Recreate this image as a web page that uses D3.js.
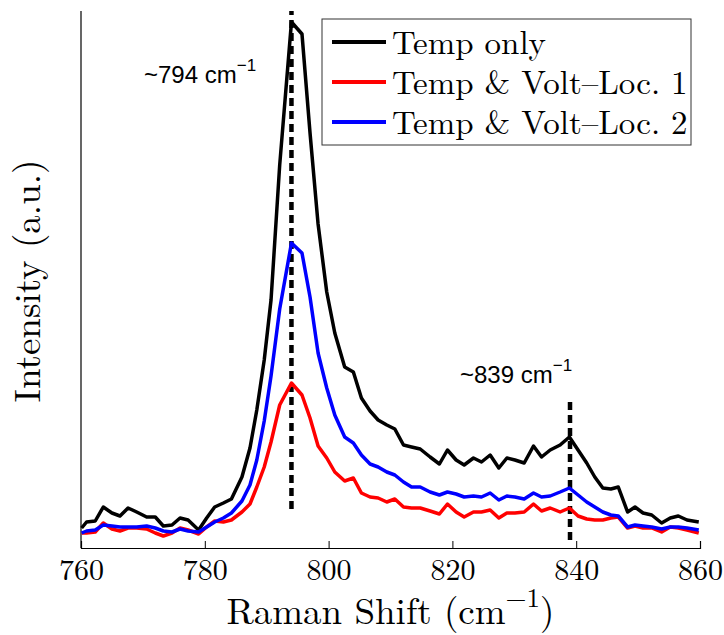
<!DOCTYPE html>
<html lang="en">
<head>
	<meta charset="utf-8">
	<script src="https://d3js.org/d3.v7.min.js"></script>
	<style type="text/css">
		body {
			margin: 0;
			background: #fff;
		}
	</style>
</head>
<body>
	<script type="text/javascript">

	// Raman shift (cm^-1) sample positions
	var shift = [760.1, 760.9, 762.3, 763.6, 765.0, 766.3, 767.6, 769.0, 770.6, 772.0,
		773.3, 774.7, 776.0, 777.3, 779.0, 780.3, 781.6, 783.0, 784.3, 786.0,
		787.3, 788.4, 789.6, 790.7, 792.1, 794.0, 795.7, 797.0, 798.3, 799.7,
		801.0, 802.6, 804.0, 805.3, 806.7, 808.0, 809.4, 810.7, 812.1, 813.4,
		814.8, 816.4, 817.9, 819.2, 820.6, 821.9, 823.4, 824.7, 826.1, 827.5,
		828.8, 830.1, 831.6, 833.1, 834.4, 835.8, 837.4, 838.9, 840.3, 841.7,
		843.0, 844.3, 845.6, 846.8, 848.3, 849.5, 850.8, 852.2, 853.8, 855.2,
		856.5, 857.9, 859.8];

	// intensities (a.u.)
	var tempOnly = [20, 26, 27, 41, 35, 32, 40, 36, 31, 31,
		22, 23, 30, 28, 18, 30, 41, 45, 49, 71,
		100, 138, 188, 248, 383, 526, 514, 415, 324, 256,
		215, 181, 176, 150, 137, 128, 123, 119, 103, 101,
		99, 91, 84, 98, 88, 83, 90, 86, 93, 80,
		90, 88, 85, 102, 91, 98, 103, 111, 98, 85,
		71, 60, 59, 61, 36, 41, 35, 33, 25, 30,
		32, 28, 26];

	var loc1 = [15, 15, 16, 25, 19, 17, 20, 20, 19, 15,
		12, 15, 20, 18, 14, 21, 27, 26, 28, 36,
		44, 61, 81, 106, 143, 165, 153, 130, 102, 90,
		76, 67, 70, 55, 51, 50, 46, 49, 41, 40,
		40, 37, 34, 44, 36, 31, 36, 36, 38, 30,
		35, 35, 36, 44, 37, 40, 36, 40, 32, 29,
		28, 28, 30, 31, 20, 22, 20, 20, 16, 21,
		20, 18, 15];

	var loc2 = [15, 17, 18, 23, 22, 21, 21, 21, 22, 20,
		17, 16, 19, 17, 16, 21, 26, 30, 35, 47,
		63, 88, 127, 172, 239, 305, 295, 251, 195, 160,
		133, 111, 105, 93, 84, 81, 76, 73, 66, 61,
		61, 56, 53, 56, 54, 51, 52, 51, 55, 48,
		52, 51, 49, 55, 51, 52, 56, 60, 53, 46,
		41, 36, 33, 32, 21, 23, 22, 21, 19, 21,
		21, 20, 18];

	var seriesNames = ["Temp only", "Temp & Volt\u2013Loc. 1", "Temp & Volt\u2013Loc. 2"];
	var seriesColors = ["#000000", "#ff0000", "#0000ff"];
	var xTicks = [760, 780, 800, 820, 840, 860];

	// marked peaks: position, label, dashed line from / to (a.u.)
	var peaks = [794, 839];
	var peakLabels = ["~794", "~839"];
	var peakLineFrom = [39, 8];
	var peakLineTo = [537, 150];

	var serif = "'Latin Modern Roman'";
	var sans = "'Liberation Sans'";

	var width = 724;
	var height = 635;
	var margin = {left: 81, right: 24, top: 11, bottom: 87};

	var svg = d3.select("body")
		.append("svg")
		.attr("width", width)
		.attr("height", height);

	var x = d3.scaleLinear()
		.domain([760, 860])
		.range([margin.left, width - margin.right]);

	var y = d3.scaleLinear()
		.domain([0, 537])
		.range([height - margin.bottom, margin.top]);

	// bottom axis, ticks pointing inward
	var xAxis = d3.axisBottom(x)
		.tickValues(xTicks)
		.tickSize(-7)
		.tickPadding(11)
		.tickFormat(d3.format("d"));

	var gx = svg.append("g")
		.attr("transform", "translate(0," + y(0) + ")")
		.call(xAxis);
	gx.select(".domain").attr("stroke", "#000").attr("stroke-width", 1.2);
	gx.selectAll(".tick line").attr("stroke", "#000");
	gx.selectAll(".tick text")
		.attr("fill", "#000")
		.attr("dy", "0.71em")
		.style("font-family", serif)
		.style("font-size", "30px");

	// left axis line only, no ticks
	svg.append("line")
		.attr("x1", x(760)).attr("x2", x(760))
		.attr("y1", y(0)).attr("y2", y(537))
		.attr("stroke", "#000")
		.attr("stroke-width", 1.2);

	// dashed peak markers
	svg.selectAll(".peak")
		.data(peaks)
		.enter()
		.append("line")
		.attr("class", "peak")
		.attr("x1", function(d) { return x(d); })
		.attr("x2", function(d) { return x(d); })
		.attr("y1", function(d, i) { return y(peakLineFrom[i]); })
		.attr("y2", function(d, i) { return y(peakLineTo[i]); })
		.attr("stroke", "#000")
		.attr("stroke-width", 4.5)
		.attr("stroke-dasharray", "8,5");

	var line = d3.line()
		.x(function(d, i) { return x(shift[i]); })
		.y(function(d) { return y(d); });

	svg.selectAll(".series")
		.data([tempOnly, loc1, loc2])
		.enter()
		.append("path")
		.attr("class", "series")
		.attr("d", line)
		.attr("fill", "none")
		.attr("stroke", function(d, i) { return seriesColors[i]; })
		.attr("stroke-width", 3.5)
		.attr("stroke-linejoin", "round");

	// peak annotations
	var notePos = [[144, 83], [460, 383]];
	var notes = svg.selectAll(".note")
		.data(peakLabels)
		.enter()
		.append("text")
		.attr("class", "note")
		.attr("x", function(d, i) { return notePos[i][0]; })
		.attr("y", function(d, i) { return notePos[i][1]; })
		.style("font-family", sans)
		.style("font-size", "24px");
	notes.append("tspan").text(function(d) { return d + " cm"; });
	notes.append("tspan")
		.attr("dy", -12)
		.style("font-size", "17px")
		.text("\u22121");

	// legend
	var legend = svg.append("g")
		.attr("transform", "translate(322,19)");

	legend.append("rect")
		.attr("width", 369)
		.attr("height", 126)
		.attr("fill", "#fff")
		.attr("stroke", "#333")
		.attr("stroke-width", 1);

	var item = legend.selectAll(".item")
		.data(seriesNames)
		.enter()
		.append("g")
		.attr("class", "item")
		.attr("transform", function(d, i) { return "translate(0," + (23 + i * 40) + ")"; });

	item.append("line")
		.attr("x1", 10)
		.attr("x2", 64)
		.attr("stroke", function(d, i) { return seriesColors[i]; })
		.attr("stroke-width", 4);

	item.append("text")
		.attr("x", 70)
		.attr("y", 12)
		.style("font-family", serif)
		.style("font-size", "33px")
		.text(function(d) { return d; });

	// axis titles
	var xt = svg.append("text")
		.attr("x", x(810))
		.attr("y", 624)
		.attr("text-anchor", "middle")
		.style("font-family", serif)
		.style("font-size", "37px");
	xt.append("tspan").text("Raman Shift (cm");
	xt.append("tspan").attr("dy", -17).style("font-size", "27px").text("\u22121");
	xt.append("tspan").attr("dy", 17).text(")");

	svg.append("text")
		.attr("transform", "translate(40,281) rotate(-90)")
		.attr("text-anchor", "middle")
		.style("font-family", serif)
		.style("font-size", "37px")
		.text("Intensity (a.u.)");

	</script>
</body>
</html>
